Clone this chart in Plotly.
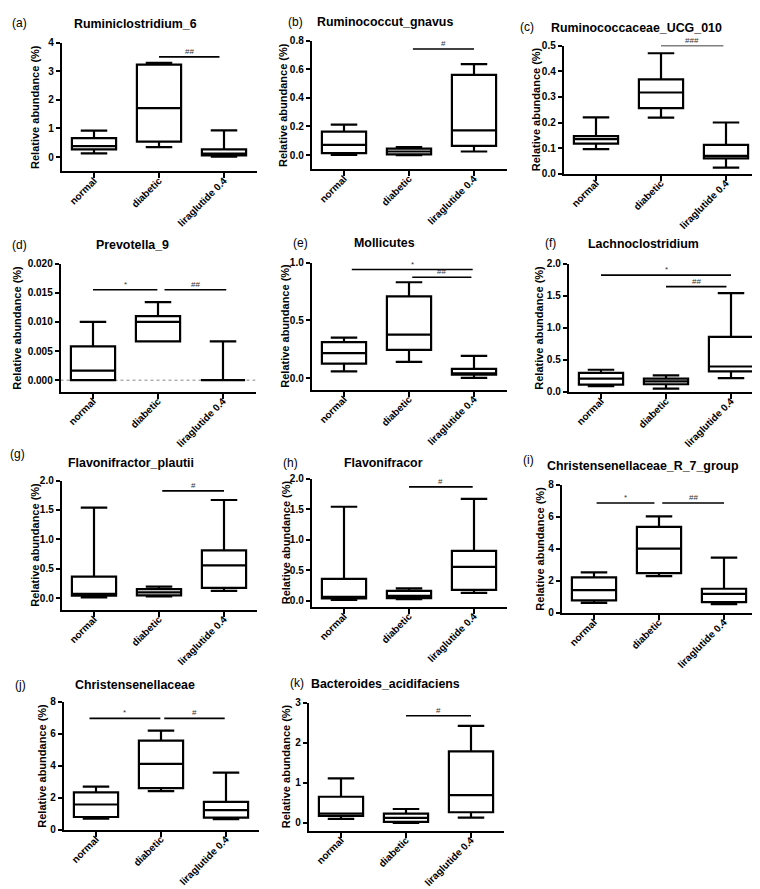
import plotly.graph_objects as go

W, H = 760, 889
groups = ["normal", "diabetic", "liraglutide 0.4"]

# five-number summaries per group: [lower whisker, Q1, median, Q3, upper whisker]
ruminiclostridium_6 = [[0.13, 0.27, 0.38, 0.66, 0.92], [0.35, 0.54, 1.71, 3.23, 3.29], [0.01, 0.06, 0.12, 0.27, 0.93]]
ruminococcut_gnavus = [[0.002, 0.014, 0.072, 0.164, 0.213], [0.0, 0.005, 0.025, 0.045, 0.055], [0.025, 0.065, 0.173, 0.56, 0.636]]
ruminococcaceae_ucg_010 = [[0.096, 0.118, 0.135, 0.147, 0.22], [0.219, 0.256, 0.317, 0.368, 0.47], [0.024, 0.06, 0.07, 0.113, 0.2]]
prevotella_9 = [[0.0, 0.0, 0.00165, 0.0058, 0.0100], [0.00665, 0.00665, 0.0100, 0.0110, 0.0134], [0.0, 0.0, 0.0, 0.0, 0.00665]]
mollicutes = [[0.059, 0.127, 0.218, 0.312, 0.351], [0.142, 0.246, 0.377, 0.708, 0.83], [0.003, 0.031, 0.042, 0.082, 0.193]]
lachnoclostridium = [[0.087, 0.113, 0.205, 0.297, 0.344], [0.051, 0.118, 0.164, 0.205, 0.256], [0.215, 0.318, 0.395, 0.856, 1.54]]
flavonifractor_plautii = [[0.011, 0.04, 0.073, 0.366, 1.54], [0.028, 0.045, 0.096, 0.152, 0.197], [0.124, 0.175, 0.558, 0.811, 1.67]]
flavonifracor = [[0.016, 0.038, 0.065, 0.36, 1.54], [0.027, 0.043, 0.08, 0.161, 0.204], [0.129, 0.177, 0.554, 0.817, 1.67]]
christensenellaceae_r_7_group = [[0.62, 0.78, 1.42, 2.21, 2.52], [2.29, 2.47, 4.0, 5.36, 6.02], [0.54, 0.66, 1.18, 1.5, 3.44]]
christensenellaceae = [[0.7, 0.8, 1.58, 2.34, 2.69], [2.42, 2.6, 4.12, 5.56, 6.19], [0.66, 0.76, 1.23, 1.74, 3.57]]
bacteroides_acidifaciens = [[0.1, 0.17, 0.23, 0.65, 1.11], [0.0, 0.025, 0.123, 0.23, 0.345], [0.13, 0.263, 0.69, 1.78, 2.42]]

panel_data = [ruminiclostridium_6, ruminococcut_gnavus, ruminococcaceae_ucg_010, prevotella_9,
              mollicutes, lachnoclostridium, flavonifractor_plautii, flavonifracor,
              christensenellaceae_r_7_group, christensenellaceae, bacteroides_acidifaciens]

titles = ["Ruminiclostridium_6", "Ruminococcut_gnavus", "Ruminococcaceae_UCG_010", "Prevotella_9",
          "Mollicutes", "Lachnoclostridium", "Flavonifractor_plautii", "Flavonifracor",
          "Christensenellaceae_R_7_group", "Christensenellaceae", "Bacteroides_acidifaciens"]
letters = ["(a)", "(b)", "(c)", "(d)", "(e)", "(f)", "(g)", "(h)", "(i)", "(j)", "(k)"]

y_ticks = [[0, 1, 2, 3, 4], [0, 0.2, 0.4, 0.6, 0.8], [0, 0.1, 0.2, 0.3, 0.4, 0.5],
           [0, 0.005, 0.010, 0.015, 0.020], [0, 0.5, 1.0], [0, 0.5, 1.0, 1.5, 2.0],
           [0, 0.5, 1.0, 1.5, 2.0], [0, 0.5, 1.0, 1.5, 2.0], [0, 2, 4, 6, 8], [0, 2, 4, 6, 8], [0, 1, 2, 3]]
y_ranges = [[-0.5, 4], [-0.1, 0.8], [0, 0.5], [-0.002, 0.020], [-0.1, 1.0], [0, 2.0],
            [-0.2, 2.0], [-0.1, 2.0], [0, 8], [0, 8], [-0.2, 3]]
y_formats = ["d", ".1f", ".1f", ".3f", ".1f", ".1f", ".1f", ".1f", "d", "d", "d"]

# significance bars: (from group, to group, height, label)
sig_bars = [
    [(1.0, 1.93, 3.5, "##")],
    [(1.06, 2.0, 0.742, "#")],
    [(1.0, 1.96, 0.5, "###")],
    [(0.0, 0.99, 0.0155, "*"), (1.1, 2.05, 0.0155, "##")],
    [(0.12, 1.98, 0.94, "*"), (1.05, 1.96, 0.873, "##")],
    [(0.0, 2.0, 1.82, "*"), (1.0, 1.93, 1.64, "##")],
    [(1.05, 2.0, 1.825, "#")],
    [(1.0, 1.98, 1.865, "#")],
    [(0.04, 0.93, 6.85, "*"), (1.05, 2.0, 6.85, "##")],
    [(-0.1, 0.99, 6.95, "*"), (1.05, 1.98, 6.95, "#")],
    [(1.0, 2.0, 2.67, "#")],
]

# layout geometry (pixels)
PW = 195
L = [53.5, 303.5, 555.5, 52.5, 303.5, 560.5, 53.5, 303.5, 553.5, 55.5, 300.5]
T = [29, 27, 32, 253, 252, 253, 473, 471, 477, 697, 698]
B = [159.5, 157.5, 162, 383, 381, 383, 604, 601, 607, 827, 828]
title_pos = [(127, 10), (377, 8), (628, 14), (124, 234), (376, 232), (635, 233),
             (123, 455), (375, 455), (635, 458), (127, 680), (377, 679)]
letter_pos = [(2, 9), (278, 8), (510, 13), (2, 234), (283, 232), (535, 232),
              (0, 446), (273, 455), (513, 452), (5, 680), (280, 678)]
ylab_off = [-26.5, -28.5, -28, -43.5, -26, -29.5, -26, -26, -21.5, -21.5, -23]

FONT = "Arial, Liberation Sans, sans-serif"
fig = go.Figure()
layout = dict(width=W, height=H, margin=dict(l=0, r=0, t=0, b=0),
              paper_bgcolor="white", plot_bgcolor="white", showlegend=False,
              font=dict(family=FONT, color="black"))
shapes, annotations = [], []

for i, d in enumerate(panel_data):
    n = i + 1
    xa, ya = f"x{n}", f"y{n}"
    fig.add_trace(go.Box(
        x=[0, 1, 2],
        lowerfence=[g[0] for g in d], q1=[g[1] for g in d], median=[g[2] for g in d],
        q3=[g[3] for g in d], upperfence=[g[4] for g in d],
        xaxis=xa, yaxis=ya, width=0.68, whiskerwidth=0.6,
        line=dict(color="black", width=2.2), fillcolor="white",
        boxpoints=False, hoverinfo="skip", showlegend=False))
    x0 = L[i] / W
    x1 = (L[i] + PW) / W
    y0 = 1 - B[i] / H
    y1 = 1 - T[i] / H
    layout[f"xaxis{n}"] = dict(
        domain=[x0, x1], range=[-0.5, 2.5], anchor=ya,
        tickvals=[0, 1, 2], ticktext=groups, tickangle=-45,
        ticks="outside", ticklen=5, tickwidth=1.5, tickcolor="black",
        ticklabelstandoff=-7,
        showline=True, linecolor="black", linewidth=1.5,
        showgrid=False, zeroline=False, fixedrange=True,
        tickfont=dict(family=FONT, size=10, color="black", weight="bold"))
    layout[f"yaxis{n}"] = dict(
        domain=[y0, y1], range=y_ranges[i], anchor=xa,
        tickvals=y_ticks[i], tickformat=y_formats[i],
        ticks="outside", ticklen=4, tickwidth=1.5, tickcolor="black",
        showline=True, linecolor="black", linewidth=1.5,
        showgrid=False, zeroline=False, fixedrange=True,
        tickfont=dict(family=FONT, size=10, color="black", weight="bold"))
    # title & letter
    annotations.append(dict(text=titles[i], x=title_pos[i][0] / W, y=1 - title_pos[i][1] / H,
                            xref="paper", yref="paper", showarrow=False,
                            xanchor="center", yanchor="middle",
                            font=dict(family=FONT, size=12.4, color="black", weight="bold")))
    annotations.append(dict(text=letters[i], x=letter_pos[i][0] / W, y=1 - letter_pos[i][1] / H,
                            xref="paper", yref="paper", showarrow=False,
                            xanchor="left", yanchor="middle",
                            font=dict(family=FONT, size=12, color="black")))
    annotations.append(dict(text="Relative abundance (%)", x=(L[i] + ylab_off[i]) / W,
                            y=(y0 + y1) / 2, xref="paper", yref="paper", showarrow=False,
                            textangle=-90, xanchor="center", yanchor="middle",
                            font=dict(family=FONT, size=11, color="black", weight="bold")))
    for (a, b, h, lab) in sig_bars[i]:
        shapes.append(dict(type="line", xref=xa, yref=ya, x0=a, x1=b, y0=h, y1=h,
                           line=dict(color="black", width=1.6)))
        annotations.append(dict(text=lab, x=(a + b) / 2, y=h, xref=xa, yref=ya,
                                showarrow=False, xanchor="center", yanchor="bottom", yshift=-1,
                                font=dict(family=FONT, size=8, color="#333")))

# dotted baseline in panel (d)
shapes.append(dict(type="line", xref="x4", yref="y4", x0=-0.5, x1=2.5, y0=0, y1=0,
                   line=dict(color="#888", width=1, dash="dot"), layer="below"))

layout["shapes"] = shapes
layout["annotations"] = annotations
fig.update_layout(**layout)
fig.write_html("out.html")
